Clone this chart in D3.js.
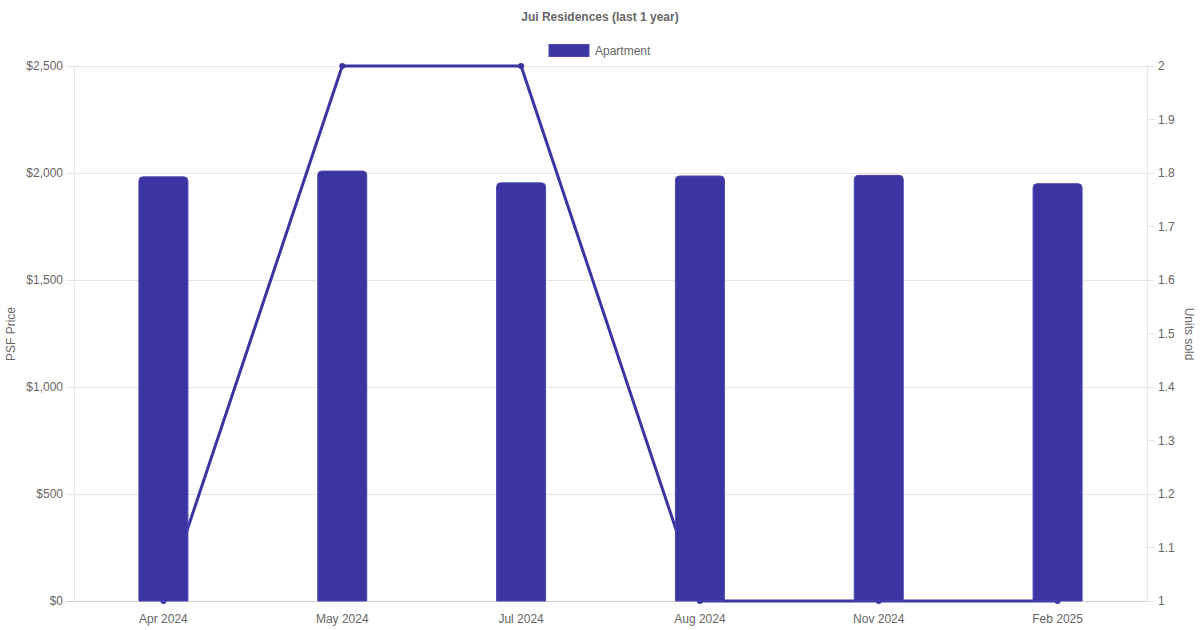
<!DOCTYPE html>
<html><head><meta charset="utf-8">
<script src="https://cdn.jsdelivr.net/npm/d3@7"></script>
<style>body{margin:0;background:#fff}svg{display:block;font-family:"Liberation Sans",Arial,Helvetica,sans-serif}</style>
</head><body><svg id="c" width="1200" height="630"></svg>
<script>
const categories = ["Apr 2024","May 2024","Jul 2024","Aug 2024","Nov 2024","Feb 2025"];
const psfValues = [1982, 2009, 1954, 1986, 1989, 1950];
const unitsSold = [1, 2, 2, 1, 1, 1];
const leftTicks = [0, 500, 1000, 1500, 2000, 2500];
const rightTicks = [1, 1.1, 1.2, 1.3, 1.4, 1.5, 1.6, 1.7, 1.8, 1.9, 2];

const svg = d3.select("#c");
const L = 74, R = 1147, T = 66, B = 601;
const color = "#3a35a0";
const x = d3.scaleBand().domain(categories).range([L, R]);
const yL = d3.scaleLinear().domain([0, 2500]).range([B, T]);
const yR = d3.scaleLinear().domain([1, 2]).range([B, T]);

// gridlines
svg.append("g").selectAll("line").data(leftTicks).join("line")
  .attr("x1", L - 8).attr("x2", R + 8).attr("y1", d => yL(d)).attr("y2", d => yL(d))
  .attr("stroke", d => d === 0 ? "#cfcfcf" : "#e6e6e6").attr("stroke-width", 1).attr("shape-rendering","crispEdges");
// right tick marks
svg.append("g").selectAll("line").data(rightTicks).join("line")
  .attr("x1", R).attr("x2", R + 8).attr("y1", d => yR(d)).attr("y2", d => yR(d))
  .attr("stroke", "#e6e6e6").attr("shape-rendering","crispEdges");
// axis lines
svg.append("line").attr("x1", L).attr("x2", L).attr("y1", T).attr("y2", B).attr("stroke", "#e6e6e6").attr("shape-rendering","crispEdges");
svg.append("line").attr("x1", R).attr("x2", R).attr("y1", T).attr("y2", B).attr("stroke", "#e6e6e6").attr("shape-rendering","crispEdges");

// left labels
svg.append("g").selectAll("text").data(leftTicks).join("text")
  .attr("x", L - 11).attr("y", d => yL(d)).attr("dy", "0.35em").attr("text-anchor", "end")
  .attr("font-size", 12).attr("fill", "#666").text(d => "$" + d3.format(",")(d));
// right labels
svg.append("g").selectAll("text").data(rightTicks).join("text")
  .attr("x", R + 11).attr("y", d => yR(d)).attr("dy", "0.35em").attr("text-anchor", "start")
  .attr("font-size", 12).attr("fill", "#666").text(d => d3.format("~g")(+d.toFixed(1)));
// x labels
svg.append("g").selectAll("text").data(categories).join("text")
  .attr("x", d => x(d) + x.bandwidth() / 2).attr("y", 623).attr("text-anchor", "middle")
  .attr("font-size", 12).attr("fill", "#666").text(d => d);

// axis titles
svg.append("text").attr("transform", `translate(15,334) rotate(-90)`).attr("text-anchor", "middle")
  .attr("font-size", 12).attr("fill", "#666").text("PSF Price");
svg.append("text").attr("transform", `translate(1185,334) rotate(90)`).attr("text-anchor", "middle")
  .attr("font-size", 12).attr("fill", "#666").text("Units sold");

// line (behind bars)
const cx = d => x(d) + x.bandwidth() / 2;
const line = d3.line().x((d, i) => cx(categories[i])).y(d => yR(d));
svg.append("path").datum(unitsSold).attr("d", line).attr("fill", "none")
  .attr("stroke", color).attr("stroke-width", 3);
svg.append("g").selectAll("circle").data(unitsSold).join("circle")
  .attr("cx", (d, i) => cx(categories[i])).attr("cy", d => yR(d)).attr("r", 3).attr("fill", color);

// bars with rounded top
const bw = 49, r = 4;
svg.append("g").selectAll("path").data(psfValues).join("path")
  .attr("d", (d, i) => {
    const x0 = cx(categories[i]) - bw / 2, x1 = x0 + bw, y0 = yL(d), yb = B;
    return `M${x0},${yb}V${y0 + r}Q${x0},${y0} ${x0 + r},${y0}H${x1 - r}Q${x1},${y0} ${x1},${y0 + r}V${yb}Z`;
  })
  .attr("fill", color).attr("stroke", "#4b47b0").attr("stroke-width", 1);

// title
svg.append("text").attr("x", 600).attr("y", 21).attr("text-anchor", "middle")
  .attr("font-size", 12).attr("font-weight", "bold").attr("fill", "#666").text("Jui Residences (last 1 year)");
// legend
svg.append("rect").attr("x", 549).attr("y", 44.5).attr("width", 40).attr("height", 12).attr("fill", color).attr("stroke","#4b47b0");
svg.append("text").attr("x", 595).attr("y", 55).attr("font-size", 12).attr("fill", "#666").text("Apartment");
</script></body></html>
